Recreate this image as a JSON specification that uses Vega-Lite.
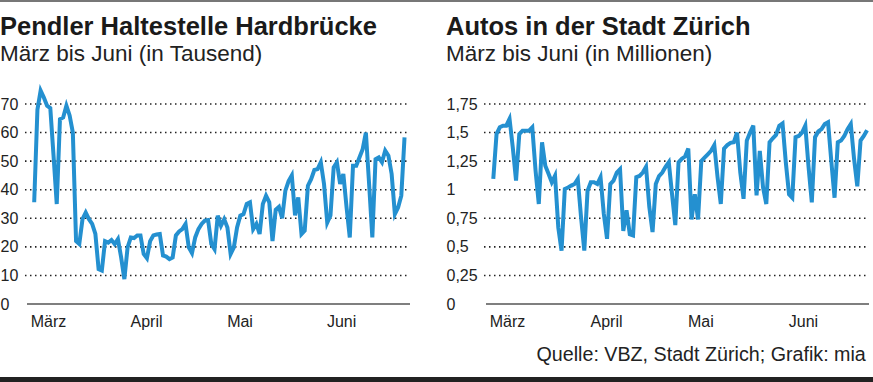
{
  "$schema": "https://vega.github.io/schema/vega-lite/v6.json",
  "padding": 0,
  "background": "white",
  "columns": 1,
  "align": "none",
  "spacing": 12,
  "datasets": {
    "pendler": [
      {"date": "2020-03-01", "v": 35.6}, {"date": "2020-03-02", "v": 68}, {"date": "2020-03-03", "v": 74.7}, {"date": "2020-03-04", "v": 72.3}, {"date": "2020-03-05", "v": 69.4}, {"date": "2020-03-06", "v": 68.6}, {"date": "2020-03-07", "v": 52}, {"date": "2020-03-08", "v": 35},
      {"date": "2020-03-09", "v": 64.7}, {"date": "2020-03-10", "v": 65.3}, {"date": "2020-03-11", "v": 69.4}, {"date": "2020-03-12", "v": 66}, {"date": "2020-03-13", "v": 60}, {"date": "2020-03-14", "v": 22}, {"date": "2020-03-15", "v": 21},
      {"date": "2020-03-16", "v": 29.7}, {"date": "2020-03-17", "v": 32}, {"date": "2020-03-18", "v": 29.7}, {"date": "2020-03-19", "v": 28}, {"date": "2020-03-20", "v": 24.5}, {"date": "2020-03-21", "v": 12.2}, {"date": "2020-03-22", "v": 11.7},
      {"date": "2020-03-23", "v": 22}, {"date": "2020-03-24", "v": 21.5}, {"date": "2020-03-25", "v": 22.4}, {"date": "2020-03-26", "v": 21}, {"date": "2020-03-27", "v": 22.7}, {"date": "2020-03-28", "v": 16.3}, {"date": "2020-03-29", "v": 8.7},
      {"date": "2020-03-30", "v": 19.8}, {"date": "2020-03-31", "v": 23.3}, {"date": "2020-04-01", "v": 23.1}, {"date": "2020-04-02", "v": 24}, {"date": "2020-04-03", "v": 24}, {"date": "2020-04-04", "v": 17.5}, {"date": "2020-04-05", "v": 16},
      {"date": "2020-04-06", "v": 22}, {"date": "2020-04-07", "v": 24}, {"date": "2020-04-08", "v": 24.3}, {"date": "2020-04-09", "v": 24.5}, {"date": "2020-04-10", "v": 17}, {"date": "2020-04-11", "v": 16.6}, {"date": "2020-04-12", "v": 15.7},
      {"date": "2020-04-13", "v": 16.3}, {"date": "2020-04-14", "v": 24}, {"date": "2020-04-15", "v": 25.4}, {"date": "2020-04-16", "v": 26.2}, {"date": "2020-04-17", "v": 28}, {"date": "2020-04-18", "v": 19.8}, {"date": "2020-04-19", "v": 17.8},
      {"date": "2020-04-20", "v": 23.3}, {"date": "2020-04-21", "v": 26.2}, {"date": "2020-04-22", "v": 28}, {"date": "2020-04-23", "v": 29.2}, {"date": "2020-04-24", "v": 29.4}, {"date": "2020-04-25", "v": 21}, {"date": "2020-04-26", "v": 19.2},
      {"date": "2020-04-27", "v": 30.9}, {"date": "2020-04-28", "v": 27.4}, {"date": "2020-04-29", "v": 29.7}, {"date": "2020-04-30", "v": 26.8}, {"date": "2020-05-01", "v": 17.5}, {"date": "2020-05-02", "v": 19.8}, {"date": "2020-05-03", "v": 26.8},
      {"date": "2020-05-04", "v": 30.9}, {"date": "2020-05-05", "v": 31.5}, {"date": "2020-05-06", "v": 35}, {"date": "2020-05-07", "v": 35.6}, {"date": "2020-05-08", "v": 26.2}, {"date": "2020-05-09", "v": 28}, {"date": "2020-05-10", "v": 24.5},
      {"date": "2020-05-11", "v": 35}, {"date": "2020-05-12", "v": 37.9}, {"date": "2020-05-13", "v": 35.6}, {"date": "2020-05-14", "v": 22}, {"date": "2020-05-15", "v": 33}, {"date": "2020-05-16", "v": 34}, {"date": "2020-05-17", "v": 30},
      {"date": "2020-05-18", "v": 39.7}, {"date": "2020-05-19", "v": 43}, {"date": "2020-05-20", "v": 45}, {"date": "2020-05-21", "v": 31}, {"date": "2020-05-22", "v": 37.3}, {"date": "2020-05-23", "v": 24.5}, {"date": "2020-05-24", "v": 25.7},
      {"date": "2020-05-25", "v": 41.4}, {"date": "2020-05-26", "v": 43.7}, {"date": "2020-05-27", "v": 46.9}, {"date": "2020-05-28", "v": 47.2}, {"date": "2020-05-29", "v": 49.6}, {"date": "2020-05-30", "v": 42}, {"date": "2020-05-31", "v": 28.5},
      {"date": "2020-06-01", "v": 31}, {"date": "2020-06-02", "v": 47.8}, {"date": "2020-06-03", "v": 49.6}, {"date": "2020-06-04", "v": 42}, {"date": "2020-06-05", "v": 45.5}, {"date": "2020-06-06", "v": 33.8}, {"date": "2020-06-07", "v": 23.3},
      {"date": "2020-06-08", "v": 48.4}, {"date": "2020-06-09", "v": 48.4}, {"date": "2020-06-10", "v": 51.3}, {"date": "2020-06-11", "v": 54.2}, {"date": "2020-06-12", "v": 60}, {"date": "2020-06-13", "v": 42}, {"date": "2020-06-14", "v": 23.3},
      {"date": "2020-06-15", "v": 50.7}, {"date": "2020-06-16", "v": 51.3}, {"date": "2020-06-17", "v": 49.6}, {"date": "2020-06-18", "v": 53.7}, {"date": "2020-06-19", "v": 51.9}, {"date": "2020-06-20", "v": 45.5}, {"date": "2020-06-21", "v": 31.5},
      {"date": "2020-06-22", "v": 33.8}, {"date": "2020-06-23", "v": 37.9}, {"date": "2020-06-24", "v": 58.3}
    ],
    "autos": [
      {"date": "2020-03-01", "v": 1.094}, {"date": "2020-03-02", "v": 1.487}, {"date": "2020-03-03", "v": 1.546}, {"date": "2020-03-04", "v": 1.56}, {"date": "2020-03-05", "v": 1.56}, {"date": "2020-03-06", "v": 1.62}, {"date": "2020-03-07", "v": 1.37}, {"date": "2020-03-08", "v": 1.08},
      {"date": "2020-03-09", "v": 1.487}, {"date": "2020-03-10", "v": 1.517}, {"date": "2020-03-11", "v": 1.517}, {"date": "2020-03-12", "v": 1.517}, {"date": "2020-03-13", "v": 1.546}, {"date": "2020-03-14", "v": 1.17}, {"date": "2020-03-15", "v": 0.875},
      {"date": "2020-03-16", "v": 1.415}, {"date": "2020-03-17", "v": 1.21}, {"date": "2020-03-18", "v": 1.14}, {"date": "2020-03-19", "v": 1.065}, {"date": "2020-03-20", "v": 1.123}, {"date": "2020-03-21", "v": 0.67}, {"date": "2020-03-22", "v": 0.467},
      {"date": "2020-03-23", "v": 1.006}, {"date": "2020-03-24", "v": 1.02}, {"date": "2020-03-25", "v": 1.036}, {"date": "2020-03-26", "v": 1.05}, {"date": "2020-03-27", "v": 1.094}, {"date": "2020-03-28", "v": 0.76}, {"date": "2020-03-29", "v": 0.467},
      {"date": "2020-03-30", "v": 0.99}, {"date": "2020-03-31", "v": 1.065}, {"date": "2020-04-01", "v": 1.065}, {"date": "2020-04-02", "v": 1.05}, {"date": "2020-04-03", "v": 1.11}, {"date": "2020-04-04", "v": 0.79}, {"date": "2020-04-05", "v": 0.57},
      {"date": "2020-04-06", "v": 1.05}, {"date": "2020-04-07", "v": 1.08}, {"date": "2020-04-08", "v": 1.15}, {"date": "2020-04-09", "v": 1.18}, {"date": "2020-04-10", "v": 0.64}, {"date": "2020-04-11", "v": 0.82}, {"date": "2020-04-12", "v": 0.61},
      {"date": "2020-04-13", "v": 0.6}, {"date": "2020-04-14", "v": 1.11}, {"date": "2020-04-15", "v": 1.12}, {"date": "2020-04-16", "v": 1.15}, {"date": "2020-04-17", "v": 1.2}, {"date": "2020-04-18", "v": 0.85}, {"date": "2020-04-19", "v": 0.63},
      {"date": "2020-04-20", "v": 1.05}, {"date": "2020-04-21", "v": 1.12}, {"date": "2020-04-22", "v": 1.15}, {"date": "2020-04-23", "v": 1.2}, {"date": "2020-04-24", "v": 1.24}, {"date": "2020-04-25", "v": 0.96}, {"date": "2020-04-26", "v": 0.69},
      {"date": "2020-04-27", "v": 1.24}, {"date": "2020-04-28", "v": 1.27}, {"date": "2020-04-29", "v": 1.29}, {"date": "2020-04-30", "v": 1.36}, {"date": "2020-05-01", "v": 0.74}, {"date": "2020-05-02", "v": 0.96}, {"date": "2020-05-03", "v": 0.74},
      {"date": "2020-05-04", "v": 1.25}, {"date": "2020-05-05", "v": 1.28}, {"date": "2020-05-06", "v": 1.31}, {"date": "2020-05-07", "v": 1.34}, {"date": "2020-05-08", "v": 1.39}, {"date": "2020-05-09", "v": 1.11}, {"date": "2020-05-10", "v": 0.875},
      {"date": "2020-05-11", "v": 1.36}, {"date": "2020-05-12", "v": 1.39}, {"date": "2020-05-13", "v": 1.41}, {"date": "2020-05-14", "v": 1.415}, {"date": "2020-05-15", "v": 1.5}, {"date": "2020-05-16", "v": 1.15}, {"date": "2020-05-17", "v": 0.92},
      {"date": "2020-05-18", "v": 1.43}, {"date": "2020-05-19", "v": 1.5}, {"date": "2020-05-20", "v": 1.56}, {"date": "2020-05-21", "v": 0.95}, {"date": "2020-05-22", "v": 1.34}, {"date": "2020-05-23", "v": 1.02}, {"date": "2020-05-24", "v": 0.875},
      {"date": "2020-05-25", "v": 1.415}, {"date": "2020-05-26", "v": 1.45}, {"date": "2020-05-27", "v": 1.48}, {"date": "2020-05-28", "v": 1.56}, {"date": "2020-05-29", "v": 1.58}, {"date": "2020-05-30", "v": 1.24}, {"date": "2020-05-31", "v": 0.96},
      {"date": "2020-06-01", "v": 0.93}, {"date": "2020-06-02", "v": 1.46}, {"date": "2020-06-03", "v": 1.47}, {"date": "2020-06-04", "v": 1.5}, {"date": "2020-06-05", "v": 1.56}, {"date": "2020-06-06", "v": 1.2}, {"date": "2020-06-07", "v": 0.89},
      {"date": "2020-06-08", "v": 1.46}, {"date": "2020-06-09", "v": 1.51}, {"date": "2020-06-10", "v": 1.53}, {"date": "2020-06-11", "v": 1.575}, {"date": "2020-06-12", "v": 1.59}, {"date": "2020-06-13", "v": 1.25}, {"date": "2020-06-14", "v": 0.93},
      {"date": "2020-06-15", "v": 1.415}, {"date": "2020-06-16", "v": 1.43}, {"date": "2020-06-17", "v": 1.47}, {"date": "2020-06-18", "v": 1.53}, {"date": "2020-06-19", "v": 1.575}, {"date": "2020-06-20", "v": 1.27}, {"date": "2020-06-21", "v": 1.03},
      {"date": "2020-06-22", "v": 1.43}, {"date": "2020-06-23", "v": 1.47}, {"date": "2020-06-24", "v": 1.52}
    ],
    "gridPendler": [{"v": 10}, {"v": 20}, {"v": 30}, {"v": 40}, {"v": 50}, {"v": 60}, {"v": 70}],
    "gridAutos": [{"v": 0.25}, {"v": 0.5}, {"v": 0.75}, {"v": 1}, {"v": 1.25}, {"v": 1.5}, {"v": 1.75}]
  },
  "config": {
    "view": {"stroke": null},
    "font": "Liberation Sans",
    "axis": {"labelFont": "Liberation Sans", "labelFontSize": 16, "labelColor": "#222", "ticks": false, "tickSize": 0, "title": null, "grid": false, "domain": false, "labelOverlap": false},
    "axisY": {"labelAlign": "left", "labelPadding": 0, "labelBaseline": "middle"},
    "axisX": {"labelAlign": "left", "labelPadding": 22, "labelBaseline": "alphabetic", "labelOffset": -4},
    "title": {"font": "Liberation Sans", "fontSize": 25.5, "fontWeight": "bold", "color": "#1a1a1a", "subtitleFont": "Liberation Sans", "subtitleFontSize": 22.5, "subtitleColor": "#222", "subtitlePadding": 3, "anchor": "start", "offset": 18.5}
  },
  "concat": [
    {"width": 873, "height": 2, "data": {"values": [{}]}, "mark": {"type": "rect", "color": "#777"}, "encoding": {}},
    {
      "spacing": 35,
      "title": {"text": "Quelle: VBZ, Stadt Zürich; Grafik: mia", "orient": "bottom", "anchor": "end", "frame": "bounds", "fontSize": 19.7, "fontWeight": "normal", "color": "#222", "offset": 16, "dx": -4},
      "hconcat": [
        {
          "width": 410, "height": 220,
          "title": {"text": "Pendler Haltestelle Hardbrücke", "subtitle": "März bis Juni (in Tausend)", "anchor": "start", "frame": "bounds"},
          "encoding": {
            "y": {"field": "v", "type": "quantitative", "scale": {"domain": [0, 77]}, "axis": {"values": [0, 10, 20, 30, 40, 50, 60, 70]}}
          },
          "layer": [
            {
              "data": {"name": "gridPendler"},
              "mark": {"type": "rule", "color": "#222", "strokeWidth": 1.6, "strokeDash": [1.5, 3.5]},
              "encoding": {
                "x": {"datum": {"year": 2020, "month": 2, "date": 27, "hours": 3, "minutes": 22, "utc": true}, "type": "temporal",
                  "scale": {"type": "utc", "domain": [{"year": 2020, "month": 2, "date": 19, "hours": 9, "minutes": 7, "utc": true}, {"year": 2020, "month": 6, "date": 25, "hours": 16, "minutes": 48, "utc": true}]},
                  "axis": {"values": [{"year": 2020, "month": 3, "date": 1, "utc": true}, {"year": 2020, "month": 4, "date": 1, "utc": true}, {"year": 2020, "month": 5, "date": 1, "utc": true}, {"year": 2020, "month": 6, "date": 1, "utc": true}], "labelExpr": "['Jan','Feb','März','April','Mai','Juni','Juli'][utcmonth(datum.value)]"}},
                "x2": {"datum": {"year": 2020, "month": 6, "date": 25, "hours": 16, "minutes": 48, "utc": true}}
              }
            },
            {
              "data": {"values": [{"v": 0}]},
              "mark": {"type": "rule", "color": "#555", "strokeWidth": 1.5},
              "encoding": {
                "x": {"datum": {"year": 2020, "month": 2, "date": 27, "hours": 18, "minutes": 14, "utc": true}, "type": "temporal",
                  "scale": {"type": "utc", "domain": [{"year": 2020, "month": 2, "date": 19, "hours": 9, "minutes": 7, "utc": true}, {"year": 2020, "month": 6, "date": 25, "hours": 16, "minutes": 48, "utc": true}]},
                  "axis": {"values": [{"year": 2020, "month": 3, "date": 1, "utc": true}, {"year": 2020, "month": 4, "date": 1, "utc": true}, {"year": 2020, "month": 5, "date": 1, "utc": true}, {"year": 2020, "month": 6, "date": 1, "utc": true}], "labelExpr": "['Jan','Feb','März','April','Mai','Juni','Juli'][utcmonth(datum.value)]"}},
                "x2": {"datum": {"year": 2020, "month": 6, "date": 25, "hours": 16, "minutes": 48, "utc": true}}
              }
            },
            {
              "data": {"name": "pendler"},
              "mark": {"type": "line", "color": "#2490d0", "strokeWidth": 4, "clip": true},
              "encoding": {
                "x": {"field": "date", "type": "temporal",
                  "scale": {"type": "utc", "domain": [{"year": 2020, "month": 2, "date": 19, "hours": 9, "minutes": 7, "utc": true}, {"year": 2020, "month": 6, "date": 25, "hours": 16, "minutes": 48, "utc": true}]},
                  "axis": {"values": [{"year": 2020, "month": 3, "date": 1, "utc": true}, {"year": 2020, "month": 4, "date": 1, "utc": true}, {"year": 2020, "month": 5, "date": 1, "utc": true}, {"year": 2020, "month": 6, "date": 1, "utc": true}], "labelExpr": "['Jan','Feb','März','April','Mai','Juni','Juli'][utcmonth(datum.value)]"}}
              }
            }
          ]
        },
        {
          "width": 423, "height": 220,
          "title": {"text": "Autos in der Stadt Zürich", "subtitle": "März bis Juni (in Millionen)", "anchor": "start", "frame": "bounds"},
          "encoding": {
            "y": {"field": "v", "type": "quantitative", "scale": {"domain": [0, 1.925]}, "axis": {"values": [0, 0.25, 0.5, 0.75, 1, 1.25, 1.5, 1.75], "labelExpr": "replace(toString(datum.value), '.', ',')"}}
          },
          "layer": [
            {
              "data": {"name": "gridAutos"},
              "mark": {"type": "rule", "color": "#222", "strokeWidth": 1.6, "strokeDash": [1.5, 3.5]},
              "encoding": {
                "x": {"datum": {"year": 2020, "month": 2, "date": 27, "hours": 3, "minutes": 22, "utc": true}, "type": "temporal",
                  "scale": {"type": "utc", "domain": [{"year": 2020, "month": 2, "date": 15, "hours": 10, "minutes": 48, "utc": true}, {"year": 2020, "month": 6, "date": 24, "hours": 14, "minutes": 24, "utc": true}]},
                  "axis": {"values": [{"year": 2020, "month": 3, "date": 1, "utc": true}, {"year": 2020, "month": 4, "date": 1, "utc": true}, {"year": 2020, "month": 5, "date": 1, "utc": true}, {"year": 2020, "month": 6, "date": 1, "utc": true}], "labelExpr": "['Jan','Feb','März','April','Mai','Juni','Juli'][utcmonth(datum.value)]"}},
                "x2": {"datum": {"year": 2020, "month": 6, "date": 24, "hours": 14, "minutes": 24, "utc": true}}
              }
            },
            {
              "data": {"values": [{"v": 0}]},
              "mark": {"type": "rule", "color": "#555", "strokeWidth": 1.5},
              "encoding": {
                "x": {"datum": {"year": 2020, "month": 2, "date": 27, "hours": 18, "utc": true}, "type": "temporal",
                  "scale": {"type": "utc", "domain": [{"year": 2020, "month": 2, "date": 15, "hours": 10, "minutes": 48, "utc": true}, {"year": 2020, "month": 6, "date": 24, "hours": 14, "minutes": 24, "utc": true}]},
                  "axis": {"values": [{"year": 2020, "month": 3, "date": 1, "utc": true}, {"year": 2020, "month": 4, "date": 1, "utc": true}, {"year": 2020, "month": 5, "date": 1, "utc": true}, {"year": 2020, "month": 6, "date": 1, "utc": true}], "labelExpr": "['Jan','Feb','März','April','Mai','Juni','Juli'][utcmonth(datum.value)]"}},
                "x2": {"datum": {"year": 2020, "month": 6, "date": 24, "hours": 14, "minutes": 24, "utc": true}}
              }
            },
            {
              "data": {"name": "autos"},
              "mark": {"type": "line", "color": "#2490d0", "strokeWidth": 4, "clip": true},
              "encoding": {
                "x": {"field": "date", "type": "temporal",
                  "scale": {"type": "utc", "domain": [{"year": 2020, "month": 2, "date": 15, "hours": 10, "minutes": 48, "utc": true}, {"year": 2020, "month": 6, "date": 24, "hours": 14, "minutes": 24, "utc": true}]},
                  "axis": {"values": [{"year": 2020, "month": 3, "date": 1, "utc": true}, {"year": 2020, "month": 4, "date": 1, "utc": true}, {"year": 2020, "month": 5, "date": 1, "utc": true}, {"year": 2020, "month": 6, "date": 1, "utc": true}], "labelExpr": "['Jan','Feb','März','April','Mai','Juni','Juli'][utcmonth(datum.value)]"}}
              }
            }
          ]
        }
      ]
    },
    {"width": 873, "height": 6, "data": {"values": [{}]}, "mark": {"type": "rect", "color": "#222"}, "encoding": {}}
  ]
}
